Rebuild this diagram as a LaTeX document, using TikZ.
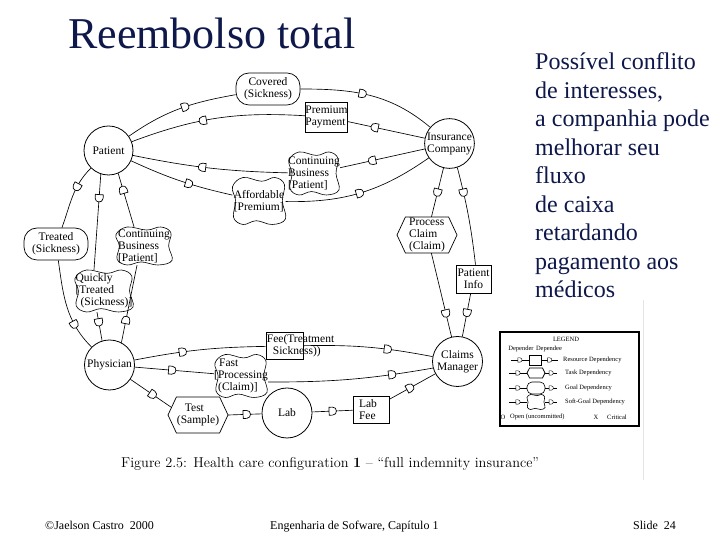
\documentclass[tikz,border=0pt]{standalone}
\usepackage{fontspec}
\newfontfamily\tms{Liberation Serif}
\usetikzlibrary{decorations.markings}
\definecolor{navy}{RGB}{14,24,74}
\newcommand\dfont{\tms\fontsize{11.5}{12}\selectfont}
\newcommand\lfont{\tms\fontsize{6.5}{7}\selectfont}
\tikzset{
  lbl/.style={font=\dfont, inner sep=0pt},
  actor/.style={circle, draw, line width=0.8pt, minimum size=#1, inner sep=0pt, font=\dfont, align=center},
  goalbox/.style={draw, rounded corners=13pt, line width=0.7pt, minimum width=64, minimum height=32, inner sep=0pt, font=\dfont, align=center},
  resbox/.style={draw, line width=0.6pt, inner sep=0pt, font=\dfont, align=center},
  dep/.style={line width=0.65pt},
  dmark/.style={postaction={decorate,decoration={markings,mark=at position #1 with {\draw[fill=white,line width=0.7pt] (-3.5,-4) -- (0,-4) .. controls (5.2,-4) and (5.2,4) .. (0,4) -- (-3.5,4) -- cycle;}}}},
  dmarksm/.style={postaction={decorate,decoration={markings,mark=at position #1 with {\draw[fill=white,line width=0.4pt] (-2,-2.2) -- (0,-2.2) .. controls (2.9,-2.2) and (2.9,2.2) .. (0,2.2) -- (-2,2.2) -- cycle;}}}},
  ltext/.style={font=\lfont, inner sep=0pt},
}
% soft goal: name, position, width, height, text
\newcommand\sgoal[5]{%
  \node[lbl, minimum width=#3, minimum height=#4, align=left] (#1) at (#2) {#5};
  \draw[line width=0.6pt, shift={(#1.center)}] plot[smooth cycle, tension=0.65] coordinates {
   ({-0.50*#3},{0.30*#4}) ({-0.30*#3},{0.50*#4}) ({0.05*#3},{0.42*#4}) ({0.30*#3},{0.50*#4})
   ({0.48*#3},{0.35*#4}) ({0.44*#3},{0.0*#4}) ({0.50*#3},{-0.38*#4}) ({0.25*#3},{-0.50*#4})
   ({-0.05*#3},{-0.42*#4}) ({-0.30*#3},{-0.50*#4}) ({-0.48*#3},{-0.35*#4}) ({-0.44*#3},{0.0*#4})};}
% task: name, position, width, height, text
\newcommand\taskhex[5]{%
  \node[lbl, minimum width=#3, minimum height=#4, align=left] (#1) at (#2) {#5};
  \draw[line width=0.7pt, shift={(#1.center)}] ({-0.5*#3},0) -- ({-0.36*#3},{0.5*#4}) -- ({0.36*#3},{0.5*#4})
   -- ({0.5*#3},0) -- ({0.36*#3},{-0.5*#4}) -- ({-0.36*#3},{-0.5*#4}) -- cycle;}
\begin{document}
\begin{tikzpicture}[x=1pt,y=1pt]
\useasboundingbox (0,0) rectangle (720,540);
\fill[white] (0,0) rectangle (720,540);
\draw[gray!20, line width=1pt] (643,60) -- (643,240);

% title and side text
\node[anchor=base west, text=navy, font=\tms\fontsize{44}{50}\selectfont, inner sep=0] (title) at (68,491) {Reembolso total};
\foreach \t [count=\i from 0] in {Possível conflito,{de interesses,},a companhia pode,melhorar seu,fluxo,de caixa,retardando,pagamento aos,médicos}
  \node[anchor=base west, text=navy, font=\tms\fontsize{24}{28}\selectfont, inner sep=0] (side\i) at (535,{470-28.5*\i}) {\t};

% actors
\node[actor=49] (P) at (108.5,389.5) {Patient};
\node[actor=49] (I) at (449.5,396.5) {Insurance\\Company};
\node[actor=50] (Ph) at (109.5,175) {Physician};
\node[actor=50] (C) at (457.5,178.5) {Claims\\Manager};
\node[actor=50] (L) at (287,127) {Lab};

% goals
\node[goalbox] (Cov) at (268,451) {Covered\\(Sickness)};
\node[goalbox] (Tr) at (56,296) {Treated\\(Sickness)};

% resources
\node[resbox, minimum width=41, minimum height=30, align=left] (PP) at (326.5,423) {Premium\\Payment};
\node[resbox, minimum width=35, minimum height=28] (PI) at (473.5,261) {Patient\\Info};
\node[resbox, minimum width=37, minimum height=27] (Fee) at (284.5,194) {};
\node[lbl, anchor=west, align=left] (feetxt) at ([xshift=1]Fee.west) {Fee(Treatment\\\hspace*{6pt}Sickness))};
\node[resbox, minimum width=36, minimum height=27, align=left] (LF) at (371,130.5) {Lab\hspace*{6pt}\\Fee\hspace*{6pt}};

% tasks
\taskhex{Proc}{427,305}{60}{36}{Process\\Claim\\(Claim)}
\taskhex{Test}{198,125}{60}{36}{\hspace*{8pt}Test\\(Sample)}

% soft goals
\sgoal{CBt}{314,366.5}{50}{43}{Continuing\\Business\\{}[Patient]}
\sgoal{Aff}{259,339}{53}{47}{Affordable\\{}[Premium]}
\sgoal{CBl}{144,294}{56}{38}{Continuing\\Business\\{}[Patient]}
\sgoal{Quick}{104,249}{58}{42}{Quickly\\{}[Treated\\\hspace*{5pt}(Sickness)]}
\sgoal{Fast}{241,164}{52}{43}{\hspace*{5pt}Fast\\{}[Processing\\\hspace*{4pt}(Claim)]}

% dependencies
\draw[dep, dmark=0.55] (P) to[out=35, in=190] (Cov);
\draw[dep, dmark=0.45] (Cov) to[out=0, in=140] (I);
\draw[dep, dmark=0.65] (I) -- (PP);
\draw[dep, dmark=0.58] (PP) to[bend right=12] (P);
\draw[dep, dmark=0.62] (I) -- (CBt);
\draw[dep, dmark=0.55] (CBt) to[bend left=5] (P);
\draw[dep, dmark=0.58] (P) to[bend right=6] (Aff);
\draw[dep, dmark=0.49] (Aff) to[bend right=18] (I);
\draw[dep, dmark=0.35] (P) to[out=225, in=70] (Tr);
\draw[dep, dmark=0.7] (Tr) to[out=-82, in=135] (Ph);
\draw[dep, dmark=0.25] (P.252) -- ([xshift=-10]Quick.north);
\draw[dep, dmark=0.35] ([xshift=-7]Quick.south) -- (Ph.107);
\draw[dep, dmark=0.29] (Ph.62) -- ([xshift=-7]CBl.south);
\draw[dep, dmark=0.69] ([xshift=-10]CBl.north) -- (P.-67);
\draw[dep, dmark=0.37] (Ph) to[bend left=5] (Fee);
\draw[dep, dmark=0.65] (Fee) to[bend left=6] (C);
\draw[dep, dmark=0.47] (Ph) -- (Fast);
\draw[dep, dmark=0.75] ([yshift=-6]Fast.east) to[bend right=5] (C.195);
\draw[dep, dmark=0.55] (Ph) -- ([xshift=3,yshift=8]Test.west);
\draw[dep, dmark=0.55] (Test.east) -- (L);
\draw[dep, dmark=0.5] (L) -- (LF);
\draw[dep, dmark=0.45] (LF) -- (C);
\draw[dep, dmark=0.5] (I) -- (Proc);
\draw[dep, dmark=0.72] (Proc) -- (C);
\draw[dep, dmark=0.26] (I.-72) to[bend left=4] ([xshift=2]PI.north);
\draw[dep, dmark=0.45] (PI) -- (C);

% caption
\node[anchor=base west, inner sep=0, font=\fontsize{14.3}{16}\selectfont] (cap) at (121,72) {Figure 2.5: Health care configuration \textbf{1} – “full indemnity insurance”};

% legend
\node[draw, line width=1.2pt, minimum width=139, minimum height=94, inner sep=0] (legend) at (569.5,161) {};
\node[ltext] (lgt) at (566,201) {LEGEND};
\node[ltext] (lder) at (521,191) {Depender};
\node[ltext] (ldee) at (549,191) {Dependee};
\coordinate (r1) at (511,180); \coordinate (r2) at (558,180);
\node[draw, line width=0.6pt, minimum width=12, minimum height=10, inner sep=0] (lres) at (535,180) {};
\draw[dep, dmarksm=0.5] (r1) -- (lres);
\draw[dep, dmarksm=0.5] (lres) -- (r2);
\node[ltext, anchor=west] (tres) at (563,180) {Resource Dependency};
\coordinate (t1) at (509,167); \coordinate (t2) at (557,167);
\taskhex{ltask}{536,167}{18}{10}{}
\draw[dep, dmarksm=0.5] (t1) -- (ltask);
\draw[dep, dmarksm=0.5] (ltask) -- (t2);
\node[ltext, anchor=west] (ttask) at (565,167) {Task Dependency};
\coordinate (g1) at (509,152); \coordinate (g2) at (557,152);
\node[draw, line width=0.6pt, rounded corners=5pt, minimum width=18, minimum height=12, inner sep=0] (lgoal) at (536,152) {};
\draw[dep, dmarksm=0.5] (g1) -- (lgoal);
\draw[dep, dmarksm=0.5] (lgoal) -- (g2);
\node[ltext, anchor=west] (tgoal) at (565,152) {Goal Dependency};
\coordinate (s1) at (509,138); \coordinate (s2) at (557,138);
\sgoal{lsoft}{536,138}{18}{15}{}
\draw[dep, dmarksm=0.5] (s1) -- (lsoft);
\draw[dep, dmarksm=0.5] (lsoft) -- (s2);
\node[ltext, anchor=west] (tsoft) at (565,138) {Soft-Goal Dependency};
\node[ltext] (lo) at (503,123) {O};
\node[ltext, anchor=west] (lopen) at (510,123) {Open (uncommitted)};
\node[ltext] (lx) at (596,123) {X};
\node[ltext, anchor=west] (lcrit) at (607,123) {Critical};

% footer
\node[anchor=base west, inner sep=0, font=\tms\fontsize{12}{14}\selectfont] (f1) at (45,10) {©Jaelson Castro\ \ 2000};
\node[anchor=base west, inner sep=0, font=\tms\fontsize{12}{14}\selectfont] (f2) at (270,10) {Engenharia de Sofware, Capítulo 1};
\node[anchor=base west, inner sep=0, font=\tms\fontsize{12}{14}\selectfont] (f3) at (633,10) {Slide\ \ 24};
\end{tikzpicture}
\end{document}
